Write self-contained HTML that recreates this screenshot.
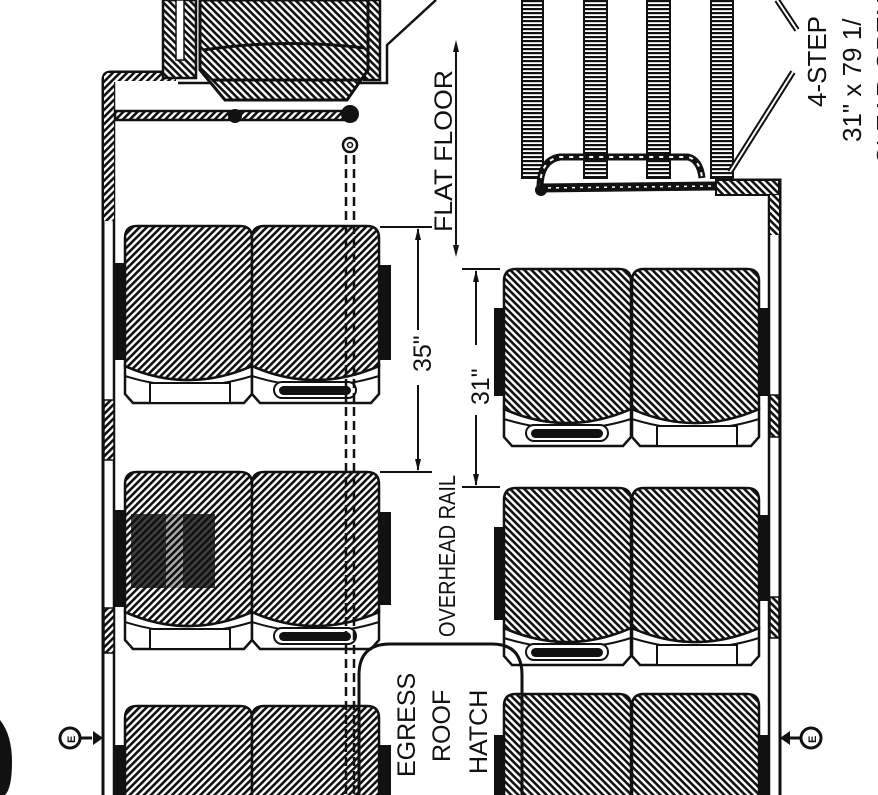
<!DOCTYPE html>
<html><head><meta charset="utf-8"><style>
html,body{margin:0;padding:0;background:#fff;width:878px;height:795px;overflow:hidden}
svg{display:block}
text{font-family:"Liberation Sans","DejaVu Sans",sans-serif;fill:#111}
</style></head><body>
<svg width="878" height="795" viewBox="0 0 878 795" xmlns="http://www.w3.org/2000/svg" overflow="hidden">
<defs>
<pattern id="hl" width="5" height="5" patternUnits="userSpaceOnUse" patternTransform="rotate(-45)">
<rect width="5" height="5" fill="#fff"/><rect width="5" height="2.6" fill="#111"/></pattern>
<pattern id="hr" width="5" height="5" patternUnits="userSpaceOnUse" patternTransform="rotate(45)">
<rect width="5" height="5" fill="#fff"/><rect width="5" height="2.6" fill="#111"/></pattern>
<pattern id="hz" width="4" height="4" patternUnits="userSpaceOnUse">
<rect width="4" height="4" fill="#fff"/><rect width="4" height="2.2" fill="#111"/></pattern>
<g id="front">
<path d="M0,140 Q63,168 127,140 L127,168 L119,177 L8,177 L0,168 Z" fill="#fff" stroke="#111" stroke-width="2.5"/>
<path d="M0,150 Q63,170 127,150" fill="none" stroke="#111" stroke-width="2"/>
</g>
<g id="cushL"><path d="M0,12 Q0,0 12,0 H115 Q127,0 127,12 V140 Q63,168 0,140 Z" fill="url(#hl)" stroke="#111" stroke-width="2.5"/></g>
<g id="cushR"><path d="M0,12 Q0,0 12,0 H115 Q127,0 127,12 V140 Q63,168 0,140 Z" fill="url(#hr)" stroke="#111" stroke-width="2.5"/></g>
<g id="inA"><rect x="25" y="157" width="80" height="20" fill="#fff" stroke="#111" stroke-width="2"/></g>
<g id="inB"><rect x="22" y="156" width="82" height="16" rx="8" fill="#fff" stroke="#111" stroke-width="2"/><rect x="27" y="160" width="72" height="9" rx="4.5" fill="#111"/></g>
<g id="seatLA"><use href="#front"/><use href="#cushL"/><use href="#inA"/></g>
<g id="seatLB"><use href="#front"/><use href="#cushL"/><use href="#inB"/></g>
<g id="seatRA"><use href="#front"/><use href="#cushR"/><use href="#inA"/></g>
<g id="seatRB"><use href="#front"/><use href="#cushR"/><use href="#inB"/></g>
</defs>

<path d="M103,795 V80 Q103,72 111,72 H175" fill="none" stroke="#111" stroke-width="3"/>
<line x1="114" y1="82" x2="114" y2="795" stroke="#111" stroke-width="2.5"/>
<rect x="104" y="76" width="10" height="145" fill="url(#hl)"/>
<rect x="104" y="73" width="72" height="8" fill="url(#hl)"/>
<rect x="104" y="400" width="10" height="60" fill="url(#hl)" stroke="#111" stroke-width="1.5"/>
<rect x="104" y="608" width="10" height="45" fill="url(#hl)" stroke="#111" stroke-width="1.5"/>
<path d="M720,180 H780 V795" fill="none" stroke="#111" stroke-width="3"/>
<line x1="769" y1="195" x2="769" y2="795" stroke="#111" stroke-width="2.5"/>
<rect x="716" y="180" width="63" height="15" fill="url(#hr)" stroke="#111" stroke-width="2"/>
<rect x="770" y="195" width="9" height="40" fill="url(#hr)"/>
<rect x="770" y="395" width="9" height="42" fill="url(#hr)" stroke="#111" stroke-width="1.5"/>
<rect x="770" y="597" width="9" height="41" fill="url(#hr)" stroke="#111" stroke-width="1.5"/>

<rect x="163" y="0" width="33" height="78" fill="url(#hr)" stroke="#111" stroke-width="2.5"/>
<rect x="176" y="0" width="8" height="60" fill="#fff" stroke="#111" stroke-width="1.5"/>
<rect x="364" y="0" width="16" height="80" fill="url(#hr)" stroke="#111" stroke-width="2.5"/>
<path d="M178,83 H387 V45 L436,0" fill="none" stroke="#111" stroke-width="2.5"/>
<path d="M200,0 V70 L225,100 H347 L368,70 V0 Z" fill="url(#hr)" stroke="#111" stroke-width="3"/>
<path d="M203,50 Q285,38 365,48" fill="none" stroke="#111" stroke-width="3"/>
<line x1="213" y1="80" x2="360" y2="80" stroke="#111" stroke-width="3"/>
<rect x="115" y="111" width="240" height="9" fill="url(#hl)" stroke="#111" stroke-width="2.5"/>
<circle cx="235" cy="116" r="7" fill="#111"/>
<circle cx="350" cy="114" r="9" fill="#111"/>
<circle cx="350" cy="145" r="7" fill="#fff" stroke="#111" stroke-width="2.5"/>
<circle cx="350" cy="145" r="2.5" fill="#fff" stroke="#111" stroke-width="1.5"/>

<g stroke="#111" stroke-width="2">
<rect x="522" y="0" width="21" height="178" fill="url(#hz)"/>
<rect x="584" y="0" width="23" height="178" fill="url(#hz)"/>
<rect x="647" y="0" width="23" height="178" fill="url(#hz)"/>
<rect x="711" y="0" width="22" height="178" fill="url(#hz)"/>
</g>
<path d="M540,188 Q540,160 560,157 H688 Q700,160 702,178" fill="none" stroke="#111" stroke-width="7"/>
<path d="M540,188 Q540,160 560,157 H688 Q700,160 702,178" fill="none" stroke="#fff" stroke-width="2" stroke-dasharray="4 6"/>
<line x1="540" y1="188" x2="716" y2="186" stroke="#111" stroke-width="9"/>
<line x1="540" y1="188" x2="716" y2="186" stroke="#fff" stroke-width="1.5" stroke-dasharray="3 5"/>
<circle cx="541" cy="190" r="6" fill="#111"/>
<path d="M730,172 L793,72" stroke="#111" stroke-width="6"/><path d="M730,172 L793,72" stroke="#fff" stroke-width="2"/>
<path d="M777,0 L797,30" stroke="#111" stroke-width="6"/><path d="M777,0 L797,30" stroke="#fff" stroke-width="2"/>
<text transform="translate(826,107) rotate(-90)" font-size="26">4-STEP</text>
<text transform="translate(861,142) rotate(-90)" font-size="26">31" x 79 1/</text>
<text transform="translate(895,165) rotate(-90)" font-size="26">CLEAR OPEN</text>

<g fill="#111">
<rect x="115" y="263" width="11" height="97"/><rect x="115" y="510" width="11" height="97"/><rect x="115" y="745" width="11" height="50"/>
<rect x="380" y="265" width="11" height="95"/><rect x="380" y="512" width="11" height="93"/><rect x="380" y="745" width="11" height="50"/>
<rect x="494" y="308" width="11" height="88"/><rect x="494" y="527" width="11" height="93"/><rect x="494" y="735" width="11" height="60"/>
<rect x="759" y="308" width="11" height="88"/><rect x="759" y="515" width="11" height="86"/><rect x="759" y="735" width="11" height="60"/>
</g>

<use href="#seatLA" x="125" y="226"/><use href="#seatLB" x="252" y="226"/>
<use href="#seatLA" x="125" y="472"/><use href="#seatLB" x="252" y="472"/>
<use href="#seatLA" x="125" y="706"/><use href="#seatLB" x="252" y="706"/>
<use href="#seatRB" x="504" y="269"/><use href="#seatRA" x="632" y="269"/>
<use href="#seatRB" x="504" y="488"/><use href="#seatRA" x="632" y="488"/>
<use href="#seatRB" x="504" y="694"/><use href="#seatRA" x="632" y="694"/>
<g fill="#111" opacity="0.8"><rect x="131" y="514" width="35" height="74"/><rect x="183" y="514" width="32" height="74"/></g>
<rect x="166" y="514" width="17" height="74" fill="#111" opacity="0.35"/>

<g stroke="#111" stroke-width="2.5" stroke-dasharray="9 5">
<line x1="346" y1="155" x2="346" y2="795"/><line x1="354" y1="155" x2="354" y2="795"/></g>

<path d="M359,795 V675 Q359,644 390,644 H492 Q522,644 522,675 V795" fill="none" stroke="#111" stroke-width="3"/>
<text transform="translate(415,777) rotate(-90)" font-size="25">EGRESS</text>
<text transform="translate(450,762) rotate(-90)" font-size="25">ROOF</text>
<text transform="translate(487,774) rotate(-90)" font-size="25">HATCH</text>

<g stroke="#111" stroke-width="2" fill="none">
<line x1="380" y1="227" x2="432" y2="227"/><line x1="380" y1="472" x2="432" y2="472"/>
<line x1="418" y1="229" x2="418" y2="330"/><line x1="418" y1="385" x2="418" y2="470"/>
<line x1="462" y1="269" x2="500" y2="269"/><line x1="462" y1="487" x2="500" y2="487"/>
<line x1="476" y1="271" x2="476" y2="345"/><line x1="476" y1="415" x2="476" y2="485"/>
<line x1="456" y1="45" x2="456" y2="252"/>
</g>
<g fill="#111">
<path d="M418,228 l-3,12 h6z"/><path d="M418,471 l-3,-12 h6z"/>
<path d="M476,270 l-3,12 h6z"/><path d="M476,486 l-3,-12 h6z"/>
<path d="M456,40 l-3,12 h6z"/><path d="M456,257 l-3,-12 h6z"/>
</g>
<text transform="translate(431,372) rotate(-90)" font-size="25">35"</text>
<text transform="translate(489,405) rotate(-90)" font-size="25">31"</text>
<text transform="translate(452,232) rotate(-90)" font-size="25" textLength="162" lengthAdjust="spacingAndGlyphs">FLAT FLOOR</text>
<text transform="translate(455,637) rotate(-90)" font-size="23" textLength="162" lengthAdjust="spacingAndGlyphs">OVERHEAD RAIL</text>

<circle cx="70" cy="738" r="10" fill="#fff" stroke="#111" stroke-width="3"/>
<text transform="translate(75,743) rotate(-90)" font-size="11" font-weight="bold">E</text>
<path d="M80,738 H92" stroke="#111" stroke-width="3"/><path d="M103,738 l-10,-7 v14z" fill="#111"/>
<circle cx="811" cy="738" r="10" fill="#fff" stroke="#111" stroke-width="3"/>
<text transform="translate(816,743) rotate(-90)" font-size="11" font-weight="bold">E</text>
<path d="M801,738 H790" stroke="#111" stroke-width="3"/><path d="M780,738 l10,-7 v14z" fill="#111"/>
<path d="M0,720 Q12,735 12,762 Q12,788 5,795 H0 Z" fill="#111"/>
</svg>
</body></html>
